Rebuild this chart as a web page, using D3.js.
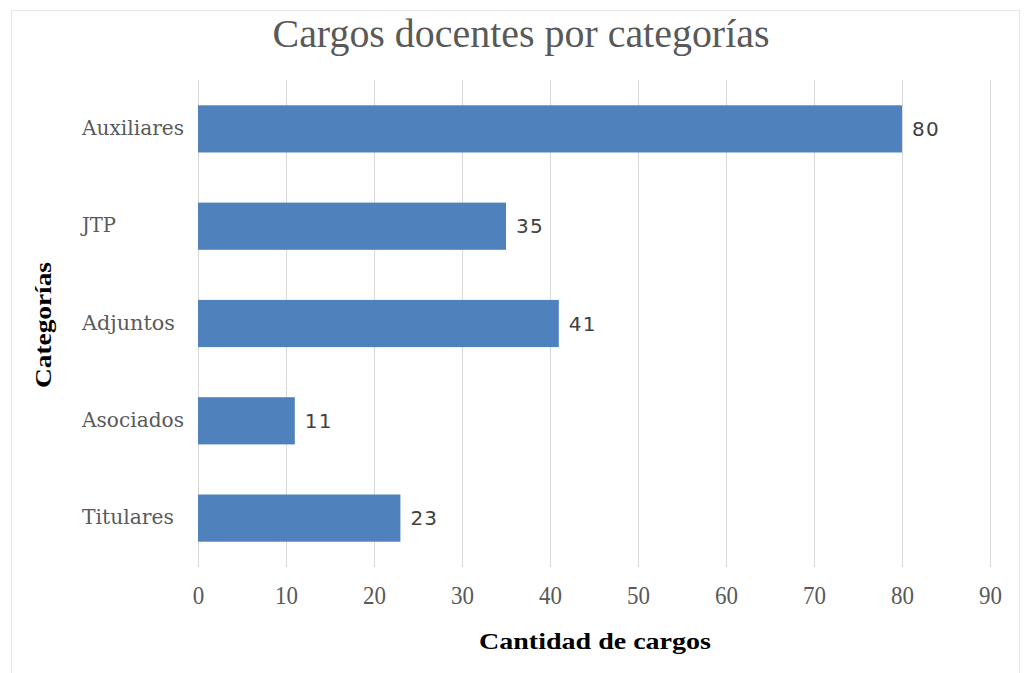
<html>
<meta charset="UTF-8">
<head>
    <title>Cargos docentes</title>
    <script src="https://d3js.org/d3.v7.min.js"></script>
    <style>
        body { margin: 0; background: #fff; }
        .gridLines line { stroke: #d9d9d9; }
        .gridLines .domain { stroke: none; }
        .x.axis .domain, .x.axis line { stroke: none; }
        .y.axis .domain, .y.axis line { stroke: none; }
    </style>
</head>
<body>
    <svg id="graph" width="1024" height="673"></svg>
</body>
<script>
    // data
    const categories = ["Auxiliares", "JTP", "Adjuntos", "Asociados", "Titulares"];
    const cargos = [80, 35, 41, 11, 23];
    const xTicks = [0, 10, 20, 30, 40, 50, 60, 70, 80, 90];

    const g = d3.select("svg#graph");
    const margin = {top: 80, right: 34, bottom: 106, left: 198};
    const width = +g.attr("width");
    const height = +g.attr("height");
    const chartWidth = width - margin.left - margin.right;   // 792 -> 0..90
    const chartHeight = height - margin.top - margin.bottom; // 487

    // outer frame
    g.append("rect")
        .attr("x", 11.5).attr("y", 10.5)
        .attr("width", 1008).attr("height", 670)
        .attr("fill", "none").attr("stroke", "#e6e6e6");

    const xScale = d3.scaleLinear().domain([0, 90]).range([0, chartWidth]);
    const yScale = d3.scaleBand().domain(categories).range([0, chartHeight]).paddingInner(0.515).paddingOuter(0.26);

    let annotations = g.append("g").attr("id", "annotations");
    let chartArea = g.append("g").attr("transform", `translate(${margin.left},${margin.top})`);

    // gridlines
    annotations.append("g")
        .attr("class", "gridLines")
        .attr("transform", `translate(${margin.left},${margin.top + chartHeight})`)
        .call(d3.axisBottom(xScale).tickValues(xTicks).tickSize(-chartHeight).tickFormat(""));

    // x axis labels (narrow, tall figures)
    let bottomAxis = annotations.append("g")
        .attr("class", "x axis")
        .attr("transform", `translate(${margin.left},${margin.top + chartHeight})`)
        .call(d3.axisBottom(xScale).tickValues(xTicks).tickSize(0).tickPadding(19));
    bottomAxis.selectAll("text")
        .attr("font-family", "'Liberation Serif', serif")
        .attr("font-size", "25px")
        .attr("fill", "#595959")
        .attr("textLength", d => String(d).length * 11.5)
        .attr("lengthAdjust", "spacingAndGlyphs");

    // y axis labels, left aligned like the original
    let leftAxis = annotations.append("g")
        .attr("class", "y axis")
        .attr("transform", `translate(${margin.left},${margin.top})`)
        .call(d3.axisLeft(yScale).tickSize(0));
    leftAxis.selectAll("text")
        .attr("x", 82 - margin.left)
        .attr("text-anchor", "start")
        .attr("font-family", "'DejaVu Serif', serif")
        .attr("font-size", "19.5px")
        .attr("fill", "#595959")
        .attr("textLength", d => ({Auxiliares: 102, JTP: 34, Adjuntos: 93, Asociados: 102, Titulares: 92})[d])
        .attr("lengthAdjust", "spacingAndGlyphs");

    // bars
    chartArea.selectAll("rect.bar")
        .data(cargos)
        .join("rect")
        .attr("class", "bar")
        .attr("x", 0)
        .attr("y", (d, i) => yScale(categories[i]))
        .attr("width", d => xScale(d))
        .attr("height", yScale.bandwidth())
        .attr("fill", "#4f81bd");

    // value labels
    chartArea.selectAll("text.val")
        .data(cargos)
        .join("text")
        .attr("class", "val")
        .attr("x", d => xScale(d) + 10)
        .attr("y", (d, i) => yScale(categories[i]) + yScale.bandwidth() / 2)
        .attr("dy", "0.36em")
        .attr("font-family", "'DejaVu Sans', sans-serif")
        .attr("font-size", "20px")
        .attr("letter-spacing", "1.2px")
        .attr("fill", "#404040")
        .text(d => d);

    // title
    g.append("text")
        .attr("x", 521).attr("y", 47)
        .attr("text-anchor", "middle")
        .attr("font-family", "'Liberation Serif', serif")
        .attr("font-size", "39px")
        .attr("fill", "#595959")
        .attr("textLength", 497).attr("lengthAdjust", "spacingAndGlyphs")
        .text("Cargos docentes por categorías");

    // axis titles
    g.append("text")
        .attr("x", 595).attr("y", 649)
        .attr("text-anchor", "middle")
        .attr("font-family", "'Liberation Serif', serif")
        .attr("font-weight", "bold")
        .attr("font-size", "24px")
        .attr("fill", "#000")
        .attr("textLength", 232).attr("lengthAdjust", "spacingAndGlyphs")
        .text("Cantidad de cargos");

    g.append("text")
        .attr("transform", "translate(51,325) rotate(-90)")
        .attr("text-anchor", "middle")
        .attr("font-family", "'Liberation Serif', serif")
        .attr("font-weight", "bold")
        .attr("font-size", "24px")
        .attr("fill", "#000")
        .attr("textLength", 126).attr("lengthAdjust", "spacingAndGlyphs")
        .text("Categorías");
</script>
</html>
